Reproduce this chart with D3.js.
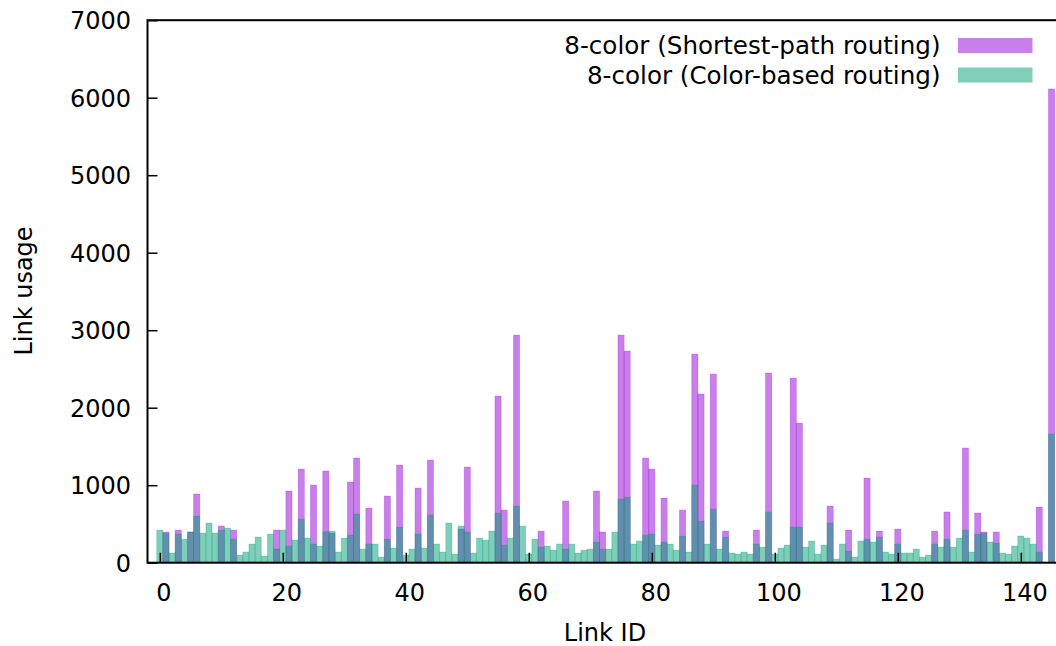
<!DOCTYPE html>
<html><head><meta charset="utf-8">
<script src="https://cdn.jsdelivr.net/npm/d3@7"></script>
<style>
html,body{margin:0;padding:0;background:#fff;}
svg{display:block;font-family:"DejaVu Sans",sans-serif;}
</style></head>
<body>
<script>
// Link usage per link ID (index = link ID)
const shortestPath = [
  0,396,0,421,0,396,886,0,0,0,
  473,0,421,0,0,0,0,0,0,421,
  0,925,0,1208,0,1002,0,1183,383,0,
  0,1041,1350,0,705,0,0,860,0,1260,
  0,0,963,0,1324,0,0,0,0,434,
  1234,0,0,0,0,2150,679,0,2937,0,
  0,0,408,0,0,0,796,0,0,0,
  0,925,396,0,0,2937,2731,0,0,1350,
  1208,0,834,0,0,679,0,2692,2176,0,
  2434,0,408,0,0,0,0,421,0,2447,
  0,0,0,2382,1802,0,0,0,0,731,
  0,0,421,0,0,1092,0,408,0,0,
  434,0,0,0,0,0,408,0,654,0,
  0,1479,0,641,396,0,396,0,0,0,
  0,0,0,718,0,6112
];
const colorBased = [
  421,378,125,370,305,396,602,383,512,383,
  421,447,305,99,138,241,331,86,370,176,
  421,215,292,563,318,241,215,400,408,138,
  318,357,628,176,241,241,73,305,189,460,
  99,176,370,189,615,241,138,512,112,473,
  396,125,318,292,408,641,228,318,731,473,
  112,305,202,215,163,241,176,241,125,163,
  176,267,176,176,396,821,847,241,280,357,
  370,228,267,241,163,344,138,1002,538,241,
  692,176,331,125,112,138,112,241,202,654,
  112,189,228,460,460,202,280,112,228,512,
  47,241,150,73,280,305,267,331,138,112,
  241,125,125,176,73,99,241,202,305,202,
  318,421,138,370,383,267,254,125,112,215,
  344,318,241,138,0,1661
];
const seriesNames = ["8-color (Shortest-path routing)", "8-color (Color-based routing)"];
const seriesColors = ["#9400d3", "#009e73"];
const xTicks = [0,20,40,60,80,100,120,140];
const yTicks = [0,1000,2000,3000,4000,5000,6000,7000];

const W = 1056, H = 646;
const L = 147.5, R = 1057.7, T = 20.2, B = 562.7;

const svg = d3.select("body").append("svg").attr("width", W).attr("height", H);
const x = d3.scaleLinear().domain([-2, 146]).range([L, R]);
const y = d3.scaleLinear().domain([0, 7000]).range([B, T]);

const series = [shortestPath, colorBased];
series.forEach((vals, si) => {
  svg.append("g").selectAll("rect")
    .data(vals.map((v, i) => ({id: i, v})).filter(d => d.v > 0))
    .join("rect")
    .attr("x", d => x(d.id - 0.5))
    .attr("width", d => x(d.id + 0.5) - x(d.id - 0.5))
    .attr("y", d => y(d.v))
    .attr("height", d => y(0) - y(d.v))
    .attr("fill", seriesColors[si])
    .attr("fill-opacity", 0.5)
    .attr("stroke", seriesColors[si])
    .attr("stroke-opacity", 0.3)
    .attr("stroke-width", 0.8);
});

// axes (inward ticks, gnuplot style)
const xAxis = d3.axisBottom(x).tickValues(xTicks).tickSizeInner(-10).tickSizeOuter(0).tickPadding(0).tickFormat(d3.format("d"));
const gx = svg.append("g").attr("transform", `translate(0,${B})`).call(xAxis);
gx.select(".domain").remove();
gx.selectAll(".tick line").attr("stroke", "#000").attr("stroke-width", 1.5);
gx.selectAll(".tick text").attr("y", 0).attr("dy", null).attr("transform", "translate(3.5,38.5)")
  .attr("font-size", 24).attr("font-family", "DejaVu Sans").attr("fill", "#000");

const yAxis = d3.axisLeft(y).tickValues(yTicks).tickSizeInner(-10).tickSizeOuter(0).tickPadding(0).tickFormat(d3.format("d"));
const gy = svg.append("g").attr("transform", `translate(${L},0)`).call(yAxis);
gy.select(".domain").remove();
gy.selectAll(".tick line").attr("stroke", "#000").attr("stroke-width", 1.5);
gy.selectAll(".tick text").attr("x", -16.5).attr("dy", "0.35em")
  .attr("font-size", 24).attr("font-family", "DejaVu Sans").attr("fill", "#000");

// frame
svg.append("rect").attr("x", L).attr("y", T).attr("width", R - L).attr("height", B - T)
  .attr("fill", "none").attr("stroke", "#000").attr("stroke-width", 2);

// axis titles
svg.append("text").attr("x", 605).attr("y", 641).attr("text-anchor", "middle")
  .attr("font-size", 24).text("Link ID");
svg.append("text").attr("transform", "translate(32,291) rotate(-90)").attr("text-anchor", "middle")
  .attr("font-size", 24).text("Link usage");

// legend
const leg = svg.append("g");
seriesNames.forEach((name, i) => {
  const cy = 45.5 + i * 29.5;
  leg.append("text").attr("x", 940.5).attr("y", cy).attr("dy", "0.35em").attr("text-anchor", "end")
    .attr("font-size", 24.6).text(name);
  leg.append("rect").attr("x", 958).attr("y", cy - 7.5).attr("width", 74.5).attr("height", 15)
    .attr("fill", seriesColors[i]).attr("fill-opacity", 0.5);
});
</script>
</body></html>
